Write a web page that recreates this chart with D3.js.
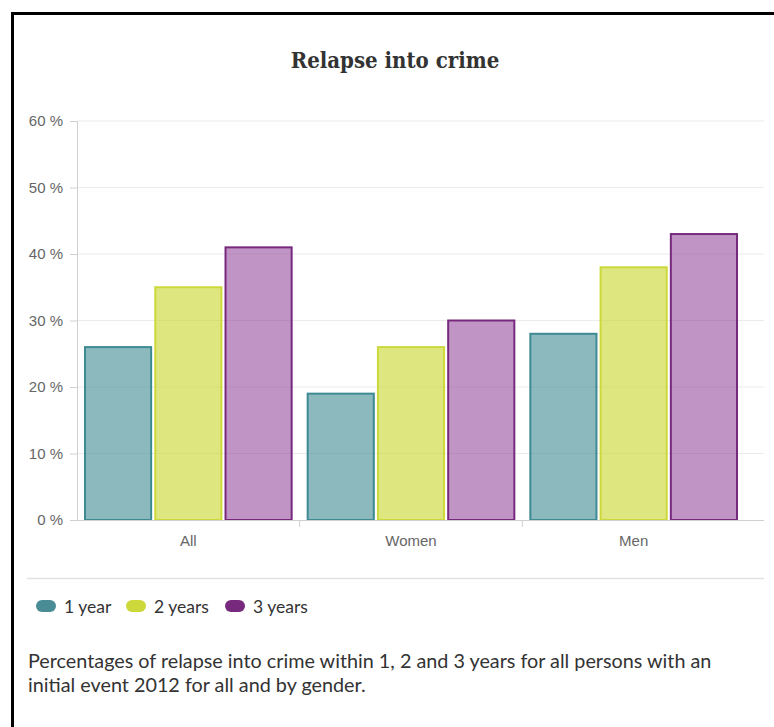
<!DOCTYPE html>
<html><head><meta charset="utf-8">
<script src="https://cdn.jsdelivr.net/npm/d3@7"></script>
<style>body{margin:0;background:#fff;}svg{display:block;}</style>
</head><body>
<script>
const categories = ["All", "Women", "Men"];
const seriesNames = ["1 year", "2 years", "3 years"];
const oneYear = [26, 19, 28];
const twoYears = [35, 26, 38];
const threeYears = [41, 30, 43];
const yTicks = [0, 10, 20, 30, 40, 50, 60];
const fills = ["rgba(62,138,147,0.6)", "rgba(205,217,58,0.65)", "rgba(140,60,150,0.55)"];
const strokes = ["#3e8a93", "#cdd93a", "#772a7d"];
const legendColors = ["#4a8c95", "#cdd93a", "#772a7d"];
const seriesValues = [oneYear, twoYears, threeYears];

const W = 774, H = 727;
const svg = d3.select("body").append("svg").attr("width", W).attr("height", H);

svg.append("rect").attr("x", 12.5).attr("y", 13.5).attr("width", 800).attr("height", 800)
  .attr("fill", "none").attr("stroke", "#000").attr("stroke-width", 3);

svg.append("text").attr("x", 395).attr("y", 68).attr("text-anchor", "middle")
  .attr("font-family", "DejaVu Serif Condensed, DejaVu Serif").attr("font-weight", "bold")
  .attr("font-size", 22).attr("font-stretch", "condensed").attr("fill", "#333").text("Relapse into crime");

const plotL = 77, plotR = 764;
const y = d3.scaleLinear().domain([0, 60]).range([520, 121]);
const x0 = d3.scaleBand().domain(categories).range([plotL, 745]);
const x1 = d3.scaleBand().domain(seriesNames).range([7, x0.bandwidth() - 7]).paddingInner(0.03);

// grid
svg.append("g").selectAll("line").data(yTicks.filter(d => d > 0)).join("line")
  .attr("x1", plotL).attr("x2", plotR).attr("y1", d => y(d)).attr("y2", d => y(d))
  .attr("stroke", "#ebebeb").attr("stroke-width", 1);

// y axis
const yAxis = svg.append("g").attr("transform", `translate(${plotL},0)`)
  .call(d3.axisLeft(y).tickValues(yTicks).tickSize(7).tickPadding(7).tickFormat(d => d + " %"));
yAxis.select(".domain").attr("stroke", "#d0d0d0");
yAxis.selectAll(".tick line").attr("stroke", "#d0d0d0");
yAxis.selectAll("text").attr("font-family", "Liberation Sans, Arial").attr("font-size", 15).attr("fill", "#666");

// bars
const groups = svg.append("g").selectAll("g").data(categories).join("g")
  .attr("transform", d => `translate(${x0(d)},0)`);
groups.selectAll("rect").data((c, ci) => seriesNames.map((s, si) => ({s, si, v: seriesValues[si][ci]})))
  .join("rect")
  .attr("x", d => x1(d.s) + 1).attr("width", x1.bandwidth() - 2)
  .attr("y", d => y(d.v)).attr("height", d => y(0) - y(d.v))
  .attr("fill", d => fills[d.si]).attr("stroke", d => strokes[d.si]).attr("stroke-width", 2);

// x axis
svg.append("line").attr("x1", plotL).attr("x2", plotR).attr("y1", 520.5).attr("y2", 520.5)
  .attr("stroke", "#d0d0d0").attr("stroke-width", 1);
const seps = categories.slice(1).map(c => x0(c));
svg.append("g").selectAll("line").data(seps).join("line")
  .attr("x1", d => d).attr("x2", d => d).attr("y1", 520).attr("y2", 527)
  .attr("stroke", "#d0d0d0");
svg.append("g").selectAll("text").data(categories).join("text")
  .attr("x", d => x0(d) + x0.bandwidth() / 2).attr("y", 546).attr("text-anchor", "middle")
  .attr("font-family", "Liberation Sans, Arial").attr("font-size", 15).attr("fill", "#666")
  .text(d => d);

// legend separator
svg.append("line").attr("x1", 27).attr("x2", plotR).attr("y1", 578.5).attr("y2", 578.5)
  .attr("stroke", "#e3e3e3").attr("stroke-width", 1.5);

const legendX = [36, 126, 225];
const leg = svg.append("g").selectAll("g").data(seriesNames).join("g")
  .attr("transform", (d, i) => `translate(${legendX[i]},600)`);
leg.append("rect").attr("width", 20).attr("height", 12).attr("rx", 6).attr("ry", 6)
  .attr("fill", (d, i) => legendColors[i]);
leg.append("text").attr("x", 28).attr("y", 13).attr("font-family", "Lato").attr("font-size", 17.5)
  .attr("fill", "#333").text(d => d);

// caption
const cap = ["Percentages of relapse into crime within 1, 2 and 3 years for all persons with an",
  "initial event 2012 for all and by gender."];
svg.append("g").selectAll("text").data(cap).join("text")
  .attr("x", 28).attr("y", (d, i) => 668 + i * 24)
  .attr("font-family", "Lato").attr("font-size", 19.8).attr("fill", "#333").text(d => d);
</script>
</body></html>
